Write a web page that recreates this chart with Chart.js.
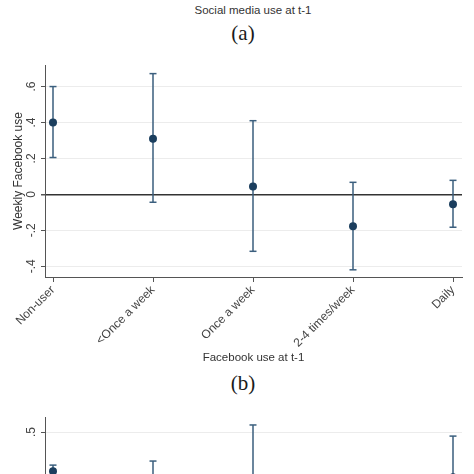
<!DOCTYPE html>
<html>
<head>
<meta charset="utf-8">
<script src="https://cdn.jsdelivr.net/npm/chart.js@4.4.1/dist/chart.umd.min.js"></script>
<style>
  html, body { margin: 0; padding: 0; background: #fff; overflow: hidden; width: 474px; height: 474px; }
  .txt { position: absolute; white-space: nowrap; transform: translateX(-50%); }
  .head { font: 11.5px Arial, "Liberation Sans", sans-serif; color: #333; line-height: 14px; }
  .panel { font: 21px "Liberation Serif", "DejaVu Serif", serif; color: #1a1a1a; line-height: 24px; }
  canvas { position: absolute; left: 0; }
</style>
</head>
<body>
<div class="txt head" style="left:253px;top:3px">Social media use at t-1</div>
<div class="txt panel" style="left:243px;top:21px">(a)</div>
<canvas id="chartA" width="474" height="369" style="top:0"></canvas>
<div class="txt panel" style="left:243px;top:371px">(b)</div>
<canvas id="chartB" width="474" height="321" style="top:400px"></canvas>

<script>
// ---- data ----
const categories = ['Non-user', '<Once a week', 'Once a week', '2-4 times/week', 'Daily'];

// panel (a): estimate and 95% CI
const estA  = [0.40, 0.31, 0.044, -0.178, -0.055];
const lowA  = [0.205, -0.044, -0.317, -0.42, -0.183];
const highA = [0.60, 0.672, 0.41, 0.067, 0.078];
const yTicksA  = [-0.4, -0.2, 0, 0.2, 0.4, 0.6];
const yLabelsA = ['-.4', '-.2', '0', '.2', '.4', '.6'];

// panel (b): only the top is visible, rest estimated
const estB  = [0.24, 0.06, 0.17, -0.12, 0.20];
const lowB  = [0.20, -0.19, -0.21, -0.36, -0.07];
const highB = [0.28, 0.307, 0.547, 0.12, 0.473];
const yTicksB  = [-0.5, 0, 0.5];
const yLabelsB = ['-.5', '0', '.5'];

const FONT = 'Arial, "Liberation Sans", sans-serif';
const CI_COLOR = '#3b5f7e';
const DOT_COLOR = '#1b3e5e';
const AXIS_COLOR = '#555';

// y tick labels are rotated like Stata's, so draw them here from the scale
function yLabelPlugin(values, labels) {
  return {
    id: 'yLabels',
    afterDraw(chart) {
      const y = chart.scales.y, ctx = chart.ctx;
      ctx.save();
      ctx.font = '12px ' + FONT;
      ctx.fillStyle = '#444';
      ctx.textAlign = 'center';
      ctx.textBaseline = 'middle';
      values.forEach((v, i) => {
        ctx.save();
        ctx.translate(32, y.getPixelForValue(v));
        ctx.rotate(-Math.PI / 2);
        ctx.fillText(labels[i], 0, 0);
        ctx.restore();
      });
      ctx.restore();
    }
  };
}

function panelConfig(est, lows, highs, yMin, yMax, yTicks, yLabels, topPad, xTitle, yTitle) {
  const ciLines = [], caps = [];
  categories.forEach((c, i) => {
    ciLines.push({ x: i, y: lows[i] }, { x: i, y: highs[i] }, { x: i, y: null });
    caps.push({ x: i, y: lows[i] }, { x: i, y: highs[i] });
  });
  return {
    type: 'scatter',
    data: {
      datasets: [
        { data: est.map((v, i) => ({ x: i, y: v })), pointRadius: 4, pointBackgroundColor: DOT_COLOR, pointBorderColor: DOT_COLOR, pointBorderWidth: 0 },
        { data: caps, pointStyle: 'line', pointRadius: 3.5, pointBorderColor: CI_COLOR, pointBorderWidth: 1.5 },
        { data: ciLines, showLine: true, spanGaps: false, pointRadius: 0, borderColor: CI_COLOR, borderWidth: 1.5 }
      ]
    },
    options: {
      responsive: false,
      animation: false,
      devicePixelRatio: 1,
      layout: { padding: { top: topPad, right: 12, left: 0, bottom: 0 } },
      plugins: { legend: { display: false }, tooltip: { enabled: false } },
      scales: {
        x: {
          type: 'linear', min: -0.08, max: 4.09,
          afterFit: s => { s.height = 92; },
          afterBuildTicks: s => { s.ticks = categories.map((c, i) => ({ value: i })); },
          ticks: {
            callback: v => categories[v],
            minRotation: 45, maxRotation: 45, autoSkip: false, padding: 1,
            font: { size: 12, family: FONT }, color: '#444'
          },
          grid: { drawOnChartArea: false, drawTicks: true, tickLength: 5, tickColor: AXIS_COLOR },
          border: { color: AXIS_COLOR, width: 1 },
          title: { display: !!xTitle, text: xTitle, font: { size: 11.5, family: FONT }, color: '#333', padding: { top: 4, bottom: 4 } }
        },
        y: {
          min: yMin, max: yMax,
          afterFit: s => { s.width = 45; },
          afterBuildTicks: s => { s.ticks = yTicks.map(v => ({ value: v })); },
          ticks: { display: false },
          grid: {
            color: c => c.tick && c.tick.value === 0 ? '#333' : '#ececec',
            lineWidth: c => c.tick && c.tick.value === 0 ? 1.5 : 1,
            tickLength: 4, tickColor: AXIS_COLOR
          },
          border: { color: AXIS_COLOR, width: 1 },
          title: { display: !!yTitle, text: yTitle, font: { size: 12, family: FONT }, color: '#333', padding: { top: 11, bottom: 0 } }
        }
      }
    },
    plugins: [yLabelPlugin(yTicks, yLabels)]
  };
}

new Chart(document.getElementById('chartA'),
  panelConfig(estA, lowA, highA, -0.46, 0.72, yTicksA, yLabelsA, 65, 'Facebook use at t-1', 'Weekly Facebook use'));
new Chart(document.getElementById('chartB'),
  panelConfig(estB, lowB, highB, -0.81, 0.60, yTicksB, yLabelsB, 17, '', ''));
</script>
</body>
</html>
